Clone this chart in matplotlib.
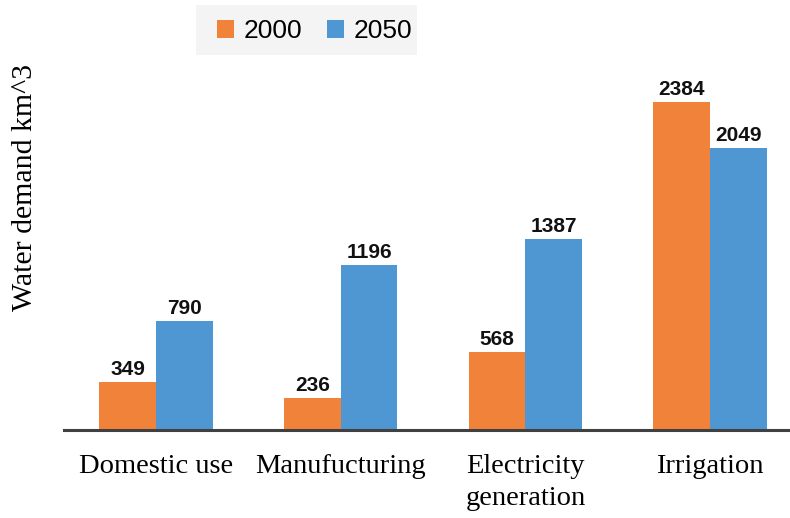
import matplotlib
matplotlib.use("Agg")
import matplotlib.pyplot as plt
import numpy as np
from matplotlib.patches import Rectangle

categories = ["Domestic use", "Manufucturing", "Electricity\ngeneration", "Irrigation"]
years = ["2000", "2050"]
demand_2000 = [349, 236, 568, 2384]
demand_2050 = [790, 1196, 1387, 2049]
colors = ["#f08339", "#4f97d2"]

W, H = 790, 518
fig = plt.figure(figsize=(W / 100, H / 100), dpi=100)
# plot area runs slightly past the right edge, as the spine does
ax = fig.add_axes([63.7 / W, 88 / H, 738.7 / W, 430 / H])

x = np.arange(len(categories))
bw = 0.307
series = [demand_2000, demand_2050]
for i, (vals, yr) in enumerate(zip(series, years)):
    pos = x + (i - 0.5) * bw
    ax.bar(pos, vals, bw, color=colors[i], label=yr, zorder=2)
    for px, v in zip(pos, vals):
        ax.annotate(str(v), (px, v), xytext=(0, 5), textcoords="offset points",
                    ha="center", va="baseline", fontsize=15, fontweight="bold",
                    family="Liberation Sans", color="#111111")

ax.set_xlim(-0.5, 3.5)
ax.set_ylim(0, 3125)
ax.set_yticks([])
ax.set_xticks(x)
ax.set_xticklabels(categories, family="Liberation Serif", fontsize=20.5, linespacing=1.4)
ax.tick_params(axis="x", length=0, pad=17)
for s in ["top", "left", "right"]:
    ax.spines[s].set_visible(False)
ax.spines["bottom"].set_color("#404040")
ax.spines["bottom"].set_linewidth(2.2)
ax.spines["bottom"].set_zorder(3)

ax.set_ylabel("Water demand km^3", family="Liberation Serif", fontsize=21.5)
ax.yaxis.set_label_coords(-0.0348, 0.563)

# legend box
fig.patches.append(Rectangle((196 / W, 1 - 55 / H), 221 / W, 50 / H,
                             transform=fig.transFigure, fc="#f4f4f4", ec="none", zorder=0))
fig.legend(loc="center left", bbox_to_anchor=(217 / W, 1 - 31 / H), ncol=2,
           frameon=False, borderpad=0, borderaxespad=0,
           prop=dict(family="Liberation Sans", size=19),
           handlelength=0.65, handleheight=0.65, handletextpad=0.35, columnspacing=0.95)

fig.savefig("out.png", dpi=100)
